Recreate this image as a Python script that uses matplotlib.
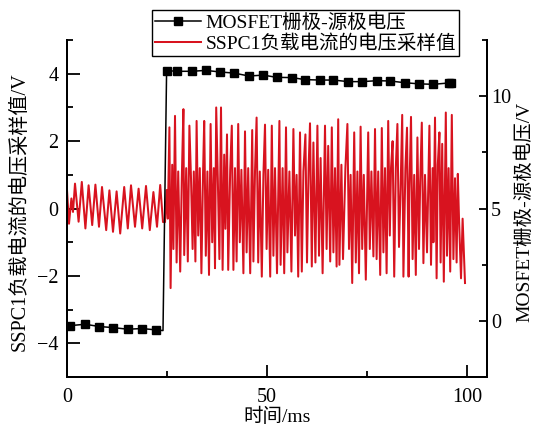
import matplotlib
matplotlib.use('Agg')
import matplotlib.pyplot as plt
from matplotlib.ticker import MultipleLocator

plt.rcParams['font.family'] = ['Liberation Serif', 'Noto Sans CJK SC']
plt.rcParams['axes.unicode_minus'] = True

# gate-source voltage (right axis, V)
gate_t = [0.8, 4.5, 8.1, 11.6, 15.2, 18.7, 22.25, 24.0,
          24.9, 27.6, 31.2, 34.7, 38.25, 41.75, 45.5, 49.1, 52.4, 56.2, 59.5,
          63.25, 66.6, 70.3, 73.7, 77.4, 80.75, 84.5, 88.1, 91.6, 95.4, 96.1]
gate_v = [-0.21, -0.15, -0.25, -0.30, -0.37, -0.34, -0.40, -0.43,
          11.14, 11.11, 11.11, 11.15, 11.08, 11.03, 10.90, 10.94, 10.84, 10.83, 10.74,
          10.72, 10.72, 10.65, 10.65, 10.69, 10.68, 10.60, 10.55, 10.53, 10.59, 10.59]
gate_marks = [i for i in range(len(gate_t)) if i != 7]

# SSPC1 load current sample voltage (left axis, V)
curr_t = [0.0, 0.5, 1.1, 1.5, 2.0, 2.9, 3.7, 4.6, 5.4, 6.3, 7.1, 8.0, 8.75, 9.8,
          10.6, 11.5, 12.4, 13.3, 14.3, 15.2, 16.0, 17.0, 17.9, 18.8, 19.75, 20.7,
          21.6, 22.5, 23.3, 24.0,
          24.5, 24.9, 25.2, 25.6, 25.9, 26.3, 26.6, 27.0, 27.4, 27.8, 28.3, 28.7,
          29.1, 29.3, 29.8, 30.2, 30.6, 31.0, 31.4, 31.7, 32.1, 32.4, 32.8, 33.2,
          33.6, 34.0, 34.3, 34.7, 35.1, 35.5, 35.9, 36.3, 36.7, 37.0, 37.3, 37.7,
          38.1, 38.5, 38.9, 39.3, 39.6, 40.0, 40.3, 40.8, 41.2, 41.6, 42.0, 42.4,
          42.8, 43.2, 43.6, 44.1, 44.5, 44.9, 45.3, 45.8, 46.3, 46.6, 47.0, 47.4,
          47.8, 48.2, 48.7, 49.1, 49.5, 49.9, 50.3, 50.8, 51.2, 51.6, 52.0, 52.5,
          53.1, 53.4, 53.9, 54.3, 54.75, 55.1, 55.6, 56.1, 56.6, 57.0, 57.4, 57.8,
          58.25, 58.7, 59.1, 59.6, 60.0, 60.4, 60.75, 61.2, 61.6, 62.1, 62.6, 63.0,
          63.4, 63.9, 64.5, 64.9, 65.3, 65.8, 66.2, 66.6, 67.0, 67.4, 67.8, 68.1,
          68.6, 69.0, 69.6, 70.1, 70.5, 70.9, 71.3, 71.8, 72.2, 72.6, 73.0, 73.4,
          73.8, 74.2, 74.7, 75.3, 75.7, 76.1, 76.6, 77.0, 77.4, 77.8, 78.3, 78.7,
          79.1, 79.5, 79.9, 80.3, 80.7, 81.0, 81.4, 81.8, 82.2, 82.6, 83.0, 83.4,
          83.8, 84.1, 84.6, 85.0, 85.4, 85.6, 86.0, 86.4, 86.8, 87.2, 87.6, 88.0,
          88.3, 88.7, 89.1, 89.5, 90.0, 90.6, 91.0, 91.4, 91.6, 92.0, 92.4, 92.7,
          93.1, 93.4, 93.8, 94.2, 94.7, 95.0, 95.4, 95.8, 96.2, 96.6, 97.0, 97.4,
          97.7, 98.0, 98.5, 98.9, 99.5]
curr_v = [0.55, -0.45, 0.30, -0.10, 0.74, -0.39, 0.79, -0.59, 0.69, -0.49, 0.71, -0.54, 0.64, -0.64,
          0.54, -0.69, 0.51, -0.74, 0.64, -0.59, 0.69, -0.54, 0.59, -0.59, 0.67, -0.64,
          0.49, -0.54, 0.70, -0.40,
          -0.40, 0.55, -0.30, 2.41, -2.36, 1.30, -1.20, 2.75, -1.60, 1.10, -1.87, 0.90,
          2.95, -1.38, 1.20, -1.57, 2.46, 0.90, -1.20, 1.10, -1.57, 2.60, -0.80, 1.20,
          -1.92, 1.00, 2.60, -1.40, 1.10, -1.97, 2.51, -1.00, 1.20, -1.77, 3.00, 0.90,
          -1.50, 3.00, -1.82, 1.60, -0.60, 2.20, -1.82, 1.15, 2.46, -1.82, 1.20, -1.57,
          2.51, -1.00, 1.15, -1.92, 2.29, -1.30, 1.20, -1.92, 2.33, -1.57, 1.10, 2.70,
          -1.60, 1.10, -2.02, 1.00, 2.49, -1.20, 1.15, -2.02, 2.46, -1.40, 1.20, -1.92,
          2.60, -1.67, 1.20, -1.92, 2.41, -1.30, 1.10, -1.87, 2.36, -0.80, 1.00, -2.02,
          2.26, -1.87, 1.10, 2.20, -1.60, 1.20, 2.53, -1.72, 1.96, -1.60, 2.46, -1.40,
          1.50, -1.92, 2.46, -1.20, 1.86, -1.57, 2.41, -1.30, 1.20, -1.72, 2.65, -1.67,
          1.30, -1.50, 1.20, 2.51, -1.20, 1.00, -2.21, 2.26, -1.60, 1.10, -1.92, 2.43,
          -1.20, 1.00, -2.11, 2.26, -1.20, 1.10, -1.42, 2.36, -1.50, 1.10, -1.97, 2.39,
          -1.30, 1.20, -1.92, 2.60, -0.80, 1.20, 2.00, -2.02, 1.20, 2.51, -1.14, 0.60,
          2.78, -2.02, 1.20, 2.40, -2.02, 0.50, 2.72, -1.50, 1.00, -1.97, 2.11, -1.20,
          0.80, 2.55, -1.62, 1.00, -1.30, 2.46, -1.67, 1.20, -1.00, 2.70, -2.07, 1.30,
          2.26, -1.60, 1.92, -2.17, 2.85, -1.40, 1.20, -1.87, 2.78, -1.50, 0.90, -1.60,
          1.03, -0.30, -2.07, -0.30, -2.21]

fig = plt.figure(figsize=(5.36, 4.28), dpi=100)
ax = fig.add_axes([0.125, 0.119, 0.7836, 0.7874])
ax_twin = ax.twinx()

ax.plot(curr_t, curr_v, color='#d8131f', linewidth=1.45,
        label='SSPC1负载电流的电压采样值')
ax_twin.plot(gate_t, gate_v, color='black', linewidth=1.1, marker='s',
             markersize=5.5, markevery=gate_marks, label='MOSFET栅极-源极电压')

# limits and ticks
ax.set_xlim(0, 105)
ax.set_ylim(-5, 5)
ax_twin.set_ylim(-2.5, 12.5)
ax.xaxis.set_major_locator(MultipleLocator(50))
ax.xaxis.set_minor_locator(MultipleLocator(25))
ax.yaxis.set_major_locator(MultipleLocator(2))
ax.yaxis.set_minor_locator(MultipleLocator(1))
ax_twin.yaxis.set_major_locator(MultipleLocator(5))
ax_twin.yaxis.set_minor_locator(MultipleLocator(2.5))

ax.tick_params(axis='both', which='major', direction='in', length=9, width=1.3,
               labelsize=14.5, pad=6)
ax.tick_params(axis='both', which='minor', direction='in', length=4.5, width=1.3)
ax.tick_params(axis='x', pad=8)
ax_twin.tick_params(axis='y', which='major', direction='in', length=6, width=1.3,
                    labelsize=14.5, pad=3)
ax_twin.tick_params(axis='y', which='minor', direction='in', length=3.5, width=1.3)

for a in (ax, ax_twin):
    a.spines['top'].set_visible(False)
    for s in ['left', 'right', 'bottom']:
        a.spines[s].set_linewidth(1.4)

# labels
ax.set_xlabel('时间/ms', fontsize=14)
ax.xaxis.set_label_coords(0.5, -0.092)
ax.set_ylabel('SSPC1负载电流的电压采样值/V', fontsize=14.5)
ax.yaxis.set_label_coords(-0.09, 0.49)
ax_twin.set_ylabel('MOSFET栅极-源极电压/V', fontsize=14)
ax_twin.yaxis.set_label_coords(1.066, 0.49)

# legend
h1, l1 = ax_twin.get_legend_handles_labels()
h2, l2 = ax.get_legend_handles_labels()
legend = ax_twin.legend(h1 + h2, l1 + l2, loc='upper left',
                        bbox_to_anchor=(0.202, 1.089), borderaxespad=0,
                        fontsize=14, handlelength=2.4, handletextpad=0.2,
                        labelspacing=0.15, borderpad=0.15, fancybox=False,
                        framealpha=1)
legend.get_frame().set_edgecolor('black')
legend.get_frame().set_linewidth(1.0)

fig.savefig('out.png', dpi=100)
